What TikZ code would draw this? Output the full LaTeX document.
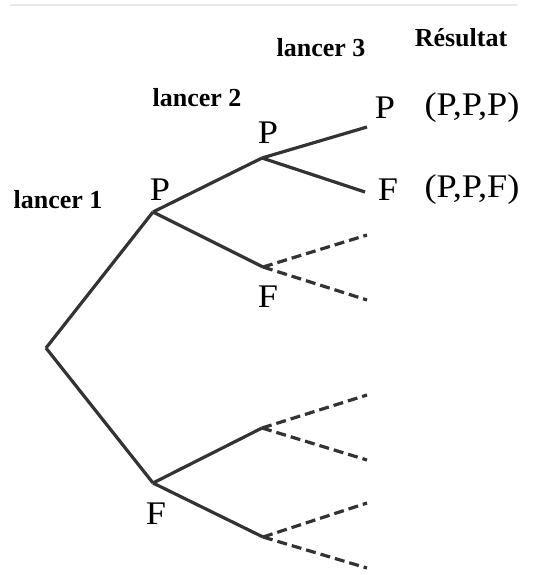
\documentclass[tikz,border=0pt]{standalone}
\usepackage{fontspec}
\setmainfont{Liberation Serif}
\newfontfamily\lettres[FakeStretch=1.1]{Liberation Serif}
\usetikzlibrary{calc}

\begin{document}
\begin{tikzpicture}[x=1pt,y=-1pt,
  branche/.style={line width=3.2pt,color=black!80},
  pointille/.style={branche,dash pattern=on 10pt off 5pt},
  issue/.style={inner sep=0pt,font=\lettres\fontsize{33}{33}\selectfont},
  titre/.style={inner sep=0pt,font=\bfseries\fontsize{26}{26}\selectfont}]

\useasboundingbox (0,0) rectangle (534,575);
\draw[line width=2pt,color=black!9] (10,5) -- (517,5);

% les points de l'arbre
\coordinate (r) at (46,348);
\coordinate (p) at (153,212);
\coordinate (f) at (153,483);
\coordinate (pp) at (262,158);
\coordinate (pf) at (263,267);
\coordinate (fp) at (262,428);
\coordinate (ff) at (263,537);
\coordinate (ppp) at (367,127);
\coordinate (ppf) at (365,192);
\coordinate (pfp) at (367,235);
\coordinate (pff) at (367,300);
\coordinate (fpp) at (367,395);
\coordinate (fpf) at (367,460);
\coordinate (ffp) at (367,503);
\coordinate (fff) at (367,568);

\draw[branche] (r) -- (p);
\draw[branche] (r) -- (f);
\draw[branche] (p) -- (pp);
\draw[branche] (p) -- (pf);
\draw[branche] (f) -- (fp);
\draw[branche] (f) -- (ff);
\draw[branche] (pp) -- (ppp);
\draw[branche] (pp) -- (ppf);

\draw[pointille] (pf) -- (pfp);
\draw[pointille] (pf) -- (pff);
\draw[pointille] (fp) -- (fpp);
\draw[pointille] (fp) -- (fpf);
\draw[pointille] (ff) -- (ffp);
\draw[pointille] (ff) -- (fff);

% les lettres
\node[issue] (lp) at (160,190) {P};
\node[issue] (lf) at (156,514) {F};
\node[issue] (lpp) at (268,133) {P};
\node[issue] (lpf) at (268,297) {F};
\node[issue] (lppp) at (385,108) {P};
\node[issue] (lppf) at (388,190) {F};

\node[issue] (rppp) at (472,108) {(P,P,P)};
\node[issue] (rppf) at (472,190) {(P,P,F)};

% les titres
\node[titre] (l1) at (58,200) {lancer 1};
\node[titre] (l2) at (197,98) {lancer 2};
\node[titre] (l3) at (321,48) {lancer 3};
\node[titre] (res) at (461,38) {Résultat};

\end{tikzpicture}
\end{document}
